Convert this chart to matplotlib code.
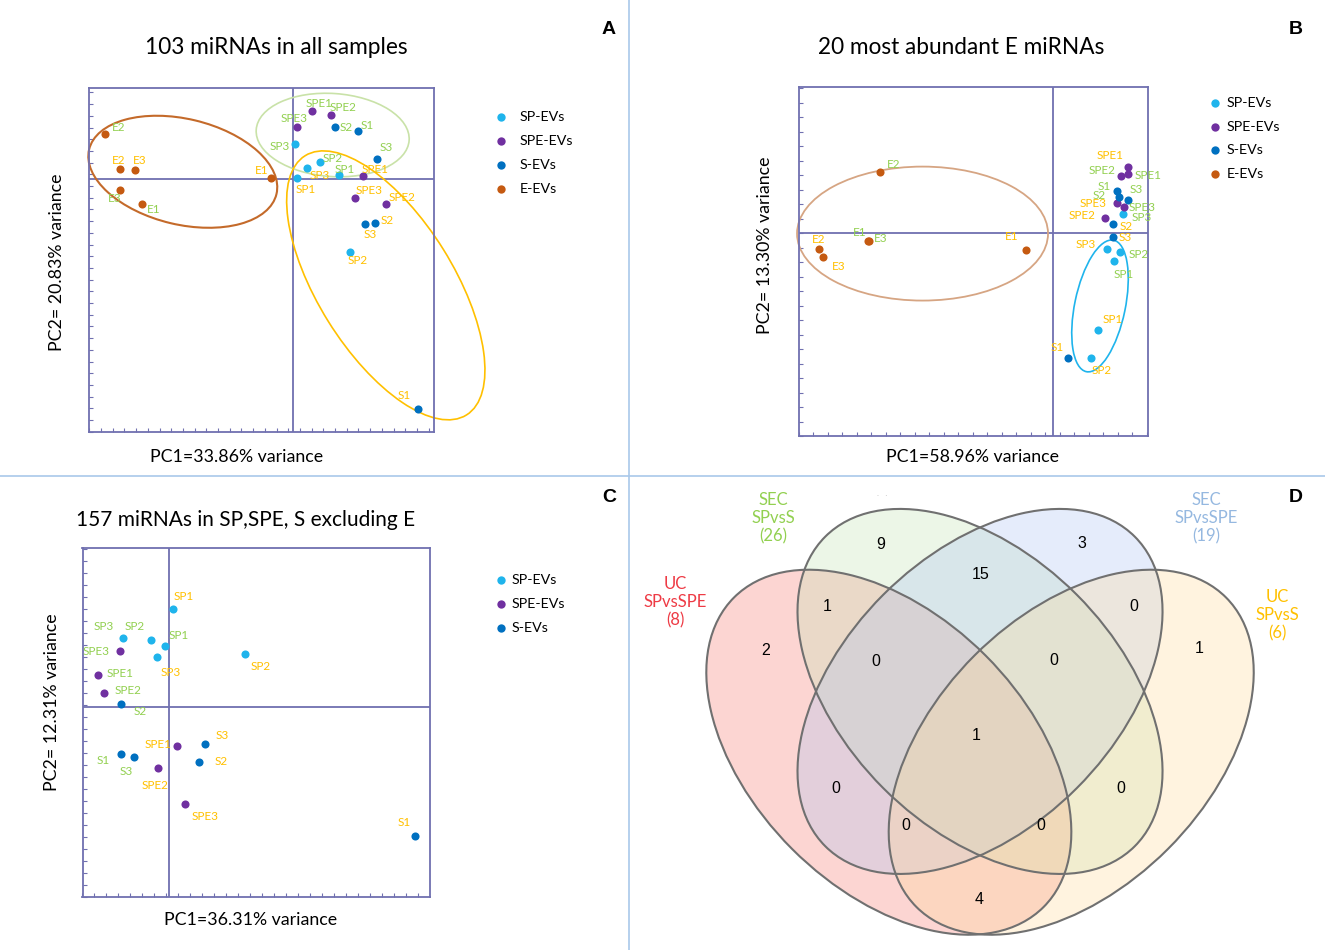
import numpy as np
import matplotlib
matplotlib.use("Agg")
import matplotlib.pyplot as plt
from matplotlib.patches import Ellipse
from matplotlib.lines import Line2D

plt.rcParams['font.family'] = ['Lato', 'DejaVu Sans']

W, H = 1325, 950

# ---------------- data ----------------
# panel A: 103 miRNAs in all samples
a_names = ['E2', 'E2', 'E3', 'E3', 'E1', 'E1', 'SPE1', 'SPE2', 'SPE3', 'S2', 'S1', 'SP3',
           'S3', 'SP2', 'SP3', 'SP1', 'SPE1', 'SP1', 'SPE3', 'SPE2', 'S2', 'S3', 'SP2', 'S1']
a_method = ['SEC', 'UC', 'UC', 'SEC', 'SEC', 'UC', 'SEC', 'SEC', 'SEC', 'SEC', 'SEC', 'SEC',
            'SEC', 'SEC', 'UC', 'SEC', 'UC', 'UC', 'UC', 'UC', 'UC', 'UC', 'UC', 'UC']
a_pc1 = [-16.04, -14.76, -13.47, -14.73, -12.85, -1.83, 1.68, 3.30, 0.37, 3.64, 5.58, 0.17,
         7.23, 2.31, 1.25, 3.96, 6.01, 0.37, 5.35, 7.97, 7.06, 6.21, 4.90, 10.74]
a_pc2 = [3.85, 0.83, 0.76, -0.91, -2.11, 0.08, 5.81, 5.44, 4.47, 4.44, 4.13, 2.99,
         1.71, 1.48, 0.94, 0.31, 0.26, 0.08, -1.62, -2.11, -3.73, -3.85, -6.21, -19.66]

# panel B: 20 most abundant E miRNAs
b_names = ['E2', 'E1', 'E3', 'E2', 'E3', 'E1', 'SPE1', 'SPE2', 'SPE1', 'S1', 'S2', 'S3',
           'SPE3', 'SPE3', 'SP3', 'SPE2', 'S2', 'S3', 'SP3', 'SP2', 'SP1', 'SP1', 'S1', 'SP2']
b_method = ['SEC', 'SEC', 'SEC', 'UC', 'UC', 'UC', 'UC', 'SEC', 'SEC', 'SEC', 'SEC', 'SEC',
            'UC', 'SEC', 'SEC', 'UC', 'UC', 'UC', 'UC', 'SEC', 'SEC', 'UC', 'UC', 'UC']
b_pc1 = [-11.91, -12.74, -12.66, -16.12, -15.84, -1.88, 5.14, 4.69, 5.17, 4.39, 4.55, 5.19,
         4.39, 4.92, 4.85, 3.59, 4.16, 4.12, 3.70, 4.62, 4.21, 3.12, 1.01, 2.62]
b_pc2 = [4.17, -0.55, -0.57, -1.14, -1.68, -1.19, 4.50, 3.91, 4.05, 2.90, 2.48, 2.26,
         2.03, 1.79, 1.27, 1.03, 0.58, -0.28, -1.14, -1.31, -1.93, -6.71, -8.62, -8.64]

# panel C: 157 miRNAs in SP, SPE, S excluding E
c_names = ['SP1', 'SP3', 'SP2', 'SP1', 'SP3', 'SP2', 'SPE3', 'SPE1', 'SPE2', 'S2', 'SPE1', 'S3',
           'S1', 'S3', 'S2', 'SPE2', 'SPE3', 'S1']
c_method = ['UC', 'SEC', 'SEC', 'SEC', 'UC', 'UC', 'SEC', 'SEC', 'SEC', 'SEC', 'UC', 'UC',
            'SEC', 'SEC', 'UC', 'UC', 'UC', 'UC']
c_pc1 = [0.36, -3.78, -1.48, -0.28, -0.95, 6.33, -4.03, -5.87, -5.42, -4.00, 0.67, 3.03,
         -3.98, -2.89, 2.53, -0.87, 1.33, 20.55]
c_pc2 = [8.14, 5.73, 5.58, 5.06, 4.14, 4.42, 4.67, 2.67, 1.17, 0.25, -3.23, -3.08,
         -3.92, -4.17, -4.58, -5.06, -8.11, -10.75]

# panel D: Venn of differentially expressed miRNAs
venn_sets = ['UC\nSPvsSPE\n(8)', 'SEC\nSPvsS\n(26)', 'SEC\nSPvsSPE\n(19)', 'UC\nSPvsS\n(6)']
venn_regions = ['B', 'BC', 'C', 'AB', 'CD', 'A', 'D', 'ABC', 'BCD', 'ABCD',
                'AC', 'BD', 'ACD', 'ABD', 'AD']
venn_counts = [9, 15, 3, 1, 0, 2, 1, 0, 0, 1, 0, 0, 0, 0, 4]

# ---------------- style / layout ----------------
group_order = ['SP', 'SPE', 'S', 'E']
group_labels = ['SP-EVs', 'SPE-EVs', 'S-EVs', 'E-EVs']
group_colors = {'SP': '#1FB4EC', 'SPE': '#7030A0', 'S': '#0070C0', 'E': '#C55A11'}
method_colors = {'SEC': '#92D050', 'UC': '#FFC000'}
axis_col = '#7070B0'

# label offsets in pixels (dx right, dy down)
a_off = [(14, -6.7), (-1.3, -9.3), (5, -10), (-6, 9.3), (11, 5.7), (-9.3, -8), (6.3, -7.7),
         (11.7, -8), (-2.7, -8.3), (10.7, 0.3), (9.3, -4.7), (-14.7, 2), (8.7, -11.3),
         (12.7, -3.7), (12.7, 7), (6, -6), (12, -6.7), (8.3, 11.3), (14, -7.3), (15.7, -6.3),
         (12, -1.7), (4.7, 10), (8, 8.7), (-14.3, -14)]
b_off = [(13.7, -8), (-8.3, -8.3), (11.3, -2.3), (-0.3, -9.3), (15.7, 9), (-14.3, -13.3),
         (-17.7, -12.3), (-19, -5.3), (20, 1.7), (-12.7, -4), (-20, -1.7), (7.7, -10),
         (-23.3, 0.7), (17.3, 0.7), (18.3, 3), (-23.3, -2.3), (12.7, 2.3), (12.3, 0.7),
         (-21, -5), (19, 2.7), (9.3, 13.7), (14.3, -10.7), (-10.3, -10.3), (10.7, 12.7)]
c_off = [(11, -12.7), (-20, -11.7), (-16, -14), (13, -11), (13.3, 15), (16, 12.7),
         (-23.7, 0.7), (21.7, -1.7), (24, -2.3), (20, 7.7), (-18.7, -1.3), (17, -8.3),
         (-17.3, 6.7), (-7.7, 14.7), (21.7, 0), (-3.3, 17.3), (20.7, 12.3), (-10.7, -13.3)]

fig = plt.figure(figsize=(W / 100, H / 100), dpi=100)


def px_rect(x0, y0, x1, y1):
    return [x0 / W, 1 - y1 / H, (x1 - x0) / W, (y1 - y0) / H]


def pca_panel(rect, xlim, ylim, names, method, pc1, pc2, offsets):
    ax = fig.add_axes(rect)
    ax.set_xlim(*xlim)
    ax.set_ylim(*ylim)
    for sp in ax.spines.values():
        sp.set_color(axis_col)
        sp.set_linewidth(1.3)
    ax.set_xticks(np.arange(xlim[0], xlim[1], 1.0))
    ax.set_yticks(np.arange(ylim[0], ylim[1], 1.0))
    ax.tick_params(direction='in', length=3, width=0.8, color=axis_col,
                   labelbottom=False, labelleft=False)
    ax.axhline(0, color=axis_col, lw=1.3, zorder=1)
    ax.axvline(0, color=axis_col, lw=1.3, zorder=1)
    groups = [n.rstrip('0123456789') for n in names]
    x = np.array(pc1)
    y = np.array(pc2)
    for g in group_order:
        m = np.array([gg == g for gg in groups])
        if m.any():
            ax.scatter(x[m], y[m], s=34, color=group_colors[g], linewidths=0, zorder=3)
    for n, me, xi, yi, (dx, dy) in zip(names, method, x, y, offsets):
        ax.annotate(n, (xi, yi), xytext=(dx, -dy), textcoords='offset pixels',
                    ha='center', va='center', fontsize=8.5, color=method_colors[me], zorder=4)
    return ax


def legend_at(xm, xt, y0, dy, n):
    for i in range(n):
        y = 1 - (y0 + i * dy) / H
        fig.add_artist(Line2D([xm / W], [y], marker='o', ms=6, lw=0, mec='none',
                              color=group_colors[group_order[i]], transform=fig.transFigure))
        fig.text(xt / W, y, group_labels[i], fontsize=10.3, va='center', ha='left')


# ---- panel A ----
axA = pca_panel(px_rect(89.3, 88, 434, 431.7), (-17.38, 12.08), (-21.6, 7.78),
                a_names, a_method, a_pc1, a_pc2, a_off)
axA.add_patch(Ellipse((-9.39, 0.62), 16.46, 9.03, angle=-13.4, fill=False,
                      ec='#C46A2A', lw=1.5, clip_on=False, zorder=2))
axA.add_patch(Ellipse((3.42, 3.76), 13.1, 7.1, angle=-4, fill=False,
                      ec='#C9E2A8', lw=1.2, clip_on=False, zorder=2))
axA.add_patch(Ellipse((7.96, -9.09), 26.1, 11.6, angle=-58.1, fill=False,
                      ec='#FFC000', lw=1.2, clip_on=False, zorder=2))
fig.text(276 / W, 1 - 47 / H, '103 miRNAs in all samples', fontsize=16.3, ha='center', va='center')
fig.text(237 / W, 1 - 457 / H, 'PC1=33.86% variance', fontsize=12.8, ha='center', va='center')
fig.text(57 / W, 1 - 262 / H, 'PC2= 20.83% variance', fontsize=12.8, ha='center', va='center',
         rotation=90)
legend_at(501, 520, 117, 24, 4)

# ---- panel B ----
axB = pca_panel(px_rect(799, 87, 1147.7, 436), (-17.52, 6.53), (-14.02, 10.05),
                b_names, b_method, b_pc1, b_pc2, b_off)
axB.add_patch(Ellipse((-9.0, -0.06), 17.31, 9.24, angle=0, fill=False,
                      ec='#D6A583', lw=1.3, clip_on=False, zorder=2))
axB.add_patch(Ellipse((3.24, -5.05), 9.26, 3.49, angle=78.3, fill=False,
                      ec='#1FB4EC', lw=1.2, clip_on=False, zorder=2))
fig.text(961 / W, 1 - 47 / H, '20 most abundant E miRNAs', fontsize=16.3, ha='center', va='center')
fig.text(972 / W, 1 - 457 / H, 'PC1=58.96% variance', fontsize=12.8, ha='center', va='center')
fig.text(765 / W, 1 - 245 / H, 'PC2= 13.30% variance', fontsize=12.8, ha='center', va='center',
         rotation=90)
legend_at(1215, 1227, 103, 23.7, 4)

# ---- panel C ----
axC = pca_panel(px_rect(82.5, 548, 430.5, 897), (-7.18, 21.82), (-15.83, 13.25),
                c_names, c_method, c_pc1, c_pc2, c_off)
fig.text(246 / W, 1 - 520 / H, '157 miRNAs in SP,SPE, S excluding E', fontsize=15,
         ha='center', va='center')
fig.text(251 / W, 1 - 920 / H, 'PC1=36.31% variance', fontsize=12.8, ha='center', va='center')
fig.text(52 / W, 1 - 702 / H, 'PC2= 12.31% variance', fontsize=12.8, ha='center', va='center',
         rotation=90)
legend_at(501, 512, 580, 24, 3)

# ---- panel D: Venn ----
axD = fig.add_axes(px_rect(630, 477, 1325, 950))
axD.set_xlim(-0.0757, 1.0674)
axD.set_ylim(0.1447, 0.9227)
axD.axis('off')
venn_shapes = [((0.35, 0.47), -45, '#F8766D'), ((0.5, 0.57), -45, '#C3E4B2'),
               ((0.5, 0.57), 45, '#ACC3F2'), ((0.65, 0.47), 45, '#FFDA98')]
for (c, ang, col) in venn_shapes:
    axD.add_patch(Ellipse(c, 0.72, 0.45, angle=ang, fc=col, alpha=0.3, ec='none'))
for (c, ang, col) in venn_shapes:
    axD.add_patch(Ellipse(c, 0.72, 0.45, angle=ang, fill=False, ec='#707070', lw=1.5))

venn_pos = {'B': (0.336, 0.811), 'BC': (0.501, 0.763), 'C': (0.667, 0.813),
            'AB': (0.248, 0.710), 'CD': (0.753, 0.710), 'A': (0.147, 0.638),
            'D': (0.861, 0.640), 'ABC': (0.328, 0.619), 'BCD': (0.622, 0.621),
            'ABCD': (0.493, 0.498), 'AC': (0.263, 0.411), 'BD': (0.732, 0.411),
            'ACD': (0.378, 0.349), 'ABD': (0.600, 0.349), 'AD': (0.499, 0.228)}
for reg, cnt in zip(venn_regions, venn_counts):
    axD.text(*venn_pos[reg], str(cnt), ha='center', va='center', fontsize=11.5,
             family='Liberation Sans')

set_label_pos = [(675, 602), (773, 518), (1206, 518), (1277, 615)]
set_label_col = ['#EE3B45', '#92D050', '#95B8E0', '#FFC000']
for lab, (x, y), col in zip(venn_sets, set_label_pos, set_label_col):
    fig.text(x / W, 1 - y / H, lab, fontsize=12, color=col, ha='center', va='center',
             linespacing=1.15)
fig.text(882 / W, 1 - 494 / H, '.   .', fontsize=6, color='#c8c8c8', ha='center', va='center')

# ---- panel letters and dividers ----
for letter, (x, y) in zip('ABCD', [(609, 30), (1296, 30), (609, 497), (1296, 497)]):
    fig.text(x / W, 1 - y / H, letter, fontsize=14, fontweight='bold', ha='center',
             va='center', family='Liberation Sans')
fig.add_artist(Line2D([628.7 / W, 628.7 / W], [0, 1], color='#A9C8EA', lw=1.2,
                      transform=fig.transFigure))
fig.add_artist(Line2D([0, 1], [1 - 475.7 / H, 1 - 475.7 / H], color='#A9C8EA', lw=1.2,
                      transform=fig.transFigure))

fig.savefig('out.png', dpi=100)
